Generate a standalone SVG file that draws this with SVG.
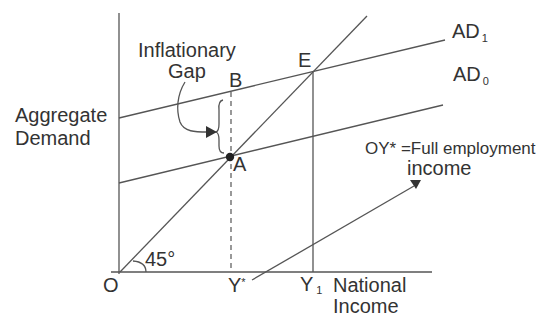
<svg xmlns="http://www.w3.org/2000/svg" width="543" height="320" viewBox="0 0 543 320">
<defs>
<style>
.t{font-family:"Liberation Sans",Arial,sans-serif;font-size:20px;fill:#333}
.s{font-size:11px}
.ln{stroke:#555;stroke-width:1.3;fill:none}
.dash{stroke:#555;stroke-width:1.2;fill:none;stroke-dasharray:5 4}
</style>
</defs>
<rect width="543" height="320" fill="#fff"/>
<g id="connectors">
<line class="ln" x1="119" y1="13" x2="119" y2="274"/>
<line class="ln" x1="111" y1="272" x2="432" y2="272"/>
<line class="ln" x1="120" y1="272" x2="367" y2="16"/>
<line class="ln" x1="119" y1="118" x2="445" y2="40"/>
<line class="ln" x1="119" y1="183" x2="443" y2="105"/>
<line class="dash" x1="231" y1="92" x2="231" y2="272"/>
<line class="ln" x1="313" y1="71" x2="313" y2="272"/>
<line class="ln" x1="252" y1="280" x2="414" y2="186"/>
<polygon points="410,180 421,180 416,189" fill="#333"/>
<path class="ln" d="M133,261 Q146,262 146,272"/>
<path class="ln" d="M223,100 Q218,101 219,110 L219,124 Q219,131 216,132 Q219,133 219,140 L219,146 Q219,153 224,153"/>
<path class="ln" d="M185,82 C177,95 176,110 180,122 C184,132 195,132 208,132"/>
<polygon points="206,126 206,138 217,132" fill="#333"/>
</g>
<g id="point-A"><circle cx="230" cy="157" r="4.2" fill="#222"/><text class="t" x="233" y="171">A</text></g>
<g id="point-B"><text class="t" x="229" y="87">B</text></g>
<g id="point-E"><text class="t" x="298" y="67">E</text></g>
<g id="label-gap"><text class="t" x="138" y="57">Inflationary</text><text class="t" x="168" y="78">Gap</text></g>
<g id="label-ad1"><text class="t" x="452" y="38">AD<tspan class="s" dx="2" dy="4">1</tspan></text></g>
<g id="label-ad0"><text class="t" x="453" y="81">AD<tspan class="s" dx="2" dy="4">0</tspan></text></g>
<g id="label-yaxis"><text class="t" x="15" y="122">Aggregate</text><text class="t" x="15" y="145">Demand</text></g>
<g id="label-note"><text class="t" x="365" y="154" style="font-size:17px">OY* =Full employment</text><text class="t" x="407" y="175">income</text></g>
<g id="label-angle"><text class="t" x="145" y="266">45°</text></g>
<g id="label-O"><text class="t" x="103" y="292">O</text></g>
<g id="label-Ystar"><text class="t" x="228" y="292">Y<tspan class="s" dy="-6">*</tspan></text></g>
<g id="label-Y1"><text class="t" x="300" y="291">Y<tspan class="s" dx="3" dy="3">1</tspan></text></g>
<g id="label-xaxis"><text class="t" x="333" y="292">National</text><text class="t" x="333" y="313">Income</text></g>
</svg>
